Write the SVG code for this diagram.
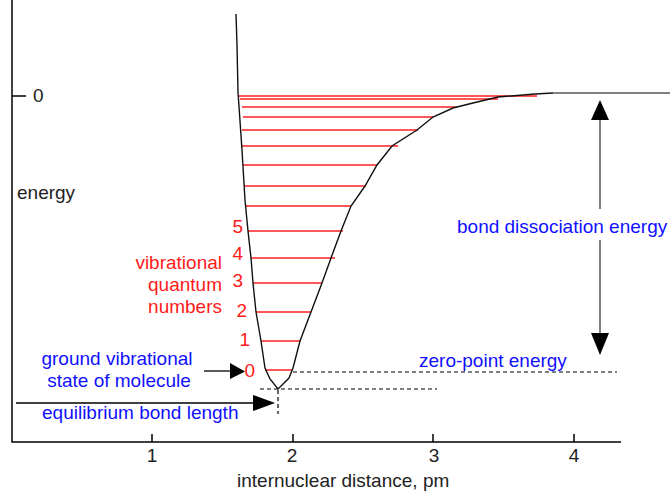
<svg xmlns="http://www.w3.org/2000/svg" width="670" height="491" viewBox="0 0 670 491">
<style>
text{font-family:"Liberation Sans",Arial,sans-serif;font-size:19px}
.k{fill:#222}
.b{fill:#1010ff}
.r{fill:#ff1a1a}
.ax{stroke:#000;stroke-width:1.5;fill:none}
.cv{stroke:#111;stroke-width:1.4;fill:none}
.lv{stroke:#ff2020;stroke-width:1.5}
.ds{stroke:#000;stroke-width:1.2;stroke-dasharray:4 3;fill:none}
.ar{stroke:#000;stroke-width:1.3}
.gr{stroke:#808080;stroke-width:2}
.hd{fill:#000}
</style>
<g id="axes">
<path class="ax" d="M12 0V442H621"/>
<path class="ax" d="M12 96H26M152 434V442M293 434V442M433 434V442M574 434V442"/>
<text class="k" x="33" y="102">0</text>
<text class="k" x="17" y="199">energy</text>
<text class="k" x="152" y="462" text-anchor="middle">1</text>
<text class="k" x="292" y="462" text-anchor="middle">2</text>
<text class="k" x="434" y="462" text-anchor="middle">3</text>
<text class="k" x="574" y="462" text-anchor="middle">4</text>
<text class="k" x="237" y="487">internuclear distance, pm</text>
</g>
<g id="levels">
<path class="lv" d="M239 96H537M240 99H498M242 107H457M243 117H433M242 130H418M242 146H398M243 165H377M244 186H366M246 206H351M248 231H343M251 258H335M253 283H322M256 312H311M261 341H300M265 370H292"/>
</g>
<g id="curve">
<path class="cv" d="M236 14L237 45L238 92L242 150L245 200L248 231L251 258L253 283L256 312L261 341L265 368L270 379L278 389L289 378L293 368L300 341L311 312L322 283L331 258L341 231L351 206L365 186L377 165L392 146L417 130L433 117L453 108L473 103L498 97L535 94L553 93"/>
<path class="gr" d="M553 93H670"/>
</g>
<g id="quantum-numbers">
<text class="r" x="243" y="233" text-anchor="end" font-size="16">5</text>
<text class="r" x="243" y="260" text-anchor="end" font-size="16">4</text>
<text class="r" x="243" y="287" text-anchor="end" font-size="16">3</text>
<text class="r" x="247" y="317" text-anchor="end" font-size="16">2</text>
<text class="r" x="250" y="346" text-anchor="end" font-size="16">1</text>
<text class="r" x="255" y="377" text-anchor="end" font-size="16">0</text>
<text class="r" x="222" y="269" text-anchor="end">vibrational</text>
<text class="r" x="222" y="291" text-anchor="end">quantum</text>
<text class="r" x="222" y="313" text-anchor="end">numbers</text>
</g>
<g id="dashed">
<path class="ds" d="M293 372H617M260 389H437M278 390V414"/>
</g>
<g id="connectors">
<path class="ar" d="M204 371H232"/>
<polygon class="hd" points="230,363 245,371.5 230,379"/>
<path class="ar" d="M16 403H256"/>
<polygon class="hd" points="253,395 275,403 253,411"/>
<path class="gr" d="M600 118V209M600 240V335"/>
<polygon class="hd" points="600,100 609,120 591,120"/>
<polygon class="hd" points="591,333 609,333 600,355"/>
</g>
<g id="labels">
<text class="b" x="117" y="365" text-anchor="middle">ground vibrational</text>
<text class="b" x="119" y="387" text-anchor="middle">state of molecule</text>
<text class="b" x="42" y="419">equilibrium bond length</text>
<text class="b" x="419" y="367">zero-point energy</text>
<text class="b" x="457" y="233">bond dissociation energy</text>
</g>
</svg>
